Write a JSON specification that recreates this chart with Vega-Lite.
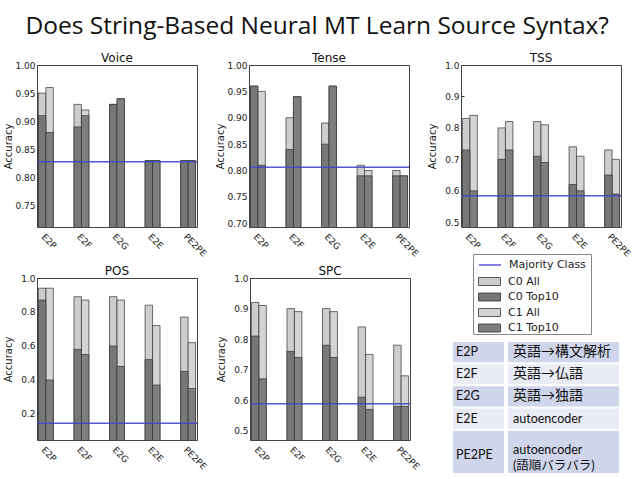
{
  "$schema": "https://vega.github.io/schema/vega-lite/v6.json",
  "padding": {"left": 2, "top": 14, "right": 0, "bottom": 0},
  "title": {"text": "Does String-Based Neural MT Learn Source Syntax?", "font": "Open Sans", "fontSize": 24.5, "fontWeight": "normal", "color": "#111", "anchor": "middle", "offset": 12},
  "datasets": {
    "bars": [
      {"task":"Voice","model":"E2P","cls":"C0","set":"All","series":"C0 All","acc":0.95},
      {"task":"Voice","model":"E2P","cls":"C0","set":"Top10","series":"C0 Top10","acc":0.91},
      {"task":"Voice","model":"E2P","cls":"C1","set":"All","series":"C1 All","acc":0.96},
      {"task":"Voice","model":"E2P","cls":"C1","set":"Top10","series":"C1 Top10","acc":0.88},
      {"task":"Voice","model":"E2F","cls":"C0","set":"All","series":"C0 All","acc":0.93},
      {"task":"Voice","model":"E2F","cls":"C0","set":"Top10","series":"C0 Top10","acc":0.89},
      {"task":"Voice","model":"E2F","cls":"C1","set":"All","series":"C1 All","acc":0.92},
      {"task":"Voice","model":"E2F","cls":"C1","set":"Top10","series":"C1 Top10","acc":0.91},
      {"task":"Voice","model":"E2G","cls":"C0","set":"All","series":"C0 All","acc":0.93},
      {"task":"Voice","model":"E2G","cls":"C0","set":"Top10","series":"C0 Top10","acc":0.93},
      {"task":"Voice","model":"E2G","cls":"C1","set":"All","series":"C1 All","acc":0.94},
      {"task":"Voice","model":"E2G","cls":"C1","set":"Top10","series":"C1 Top10","acc":0.94},
      {"task":"Voice","model":"E2E","cls":"C0","set":"All","series":"C0 All","acc":0.83},
      {"task":"Voice","model":"E2E","cls":"C0","set":"Top10","series":"C0 Top10","acc":0.83},
      {"task":"Voice","model":"E2E","cls":"C1","set":"All","series":"C1 All","acc":0.83},
      {"task":"Voice","model":"E2E","cls":"C1","set":"Top10","series":"C1 Top10","acc":0.83},
      {"task":"Voice","model":"PE2PE","cls":"C0","set":"All","series":"C0 All","acc":0.83},
      {"task":"Voice","model":"PE2PE","cls":"C0","set":"Top10","series":"C0 Top10","acc":0.83},
      {"task":"Voice","model":"PE2PE","cls":"C1","set":"All","series":"C1 All","acc":0.83},
      {"task":"Voice","model":"PE2PE","cls":"C1","set":"Top10","series":"C1 Top10","acc":0.83},
      {"task":"Tense","model":"E2P","cls":"C0","set":"All","series":"C0 All","acc":0.96},
      {"task":"Tense","model":"E2P","cls":"C0","set":"Top10","series":"C0 Top10","acc":0.96},
      {"task":"Tense","model":"E2P","cls":"C1","set":"All","series":"C1 All","acc":0.95},
      {"task":"Tense","model":"E2P","cls":"C1","set":"Top10","series":"C1 Top10","acc":0.81},
      {"task":"Tense","model":"E2F","cls":"C0","set":"All","series":"C0 All","acc":0.90},
      {"task":"Tense","model":"E2F","cls":"C0","set":"Top10","series":"C0 Top10","acc":0.84},
      {"task":"Tense","model":"E2F","cls":"C1","set":"All","series":"C1 All","acc":0.94},
      {"task":"Tense","model":"E2F","cls":"C1","set":"Top10","series":"C1 Top10","acc":0.94},
      {"task":"Tense","model":"E2G","cls":"C0","set":"All","series":"C0 All","acc":0.89},
      {"task":"Tense","model":"E2G","cls":"C0","set":"Top10","series":"C0 Top10","acc":0.85},
      {"task":"Tense","model":"E2G","cls":"C1","set":"All","series":"C1 All","acc":0.96},
      {"task":"Tense","model":"E2G","cls":"C1","set":"Top10","series":"C1 Top10","acc":0.96},
      {"task":"Tense","model":"E2E","cls":"C0","set":"All","series":"C0 All","acc":0.81},
      {"task":"Tense","model":"E2E","cls":"C0","set":"Top10","series":"C0 Top10","acc":0.79},
      {"task":"Tense","model":"E2E","cls":"C1","set":"All","series":"C1 All","acc":0.80},
      {"task":"Tense","model":"E2E","cls":"C1","set":"Top10","series":"C1 Top10","acc":0.79},
      {"task":"Tense","model":"PE2PE","cls":"C0","set":"All","series":"C0 All","acc":0.80},
      {"task":"Tense","model":"PE2PE","cls":"C0","set":"Top10","series":"C0 Top10","acc":0.79},
      {"task":"Tense","model":"PE2PE","cls":"C1","set":"All","series":"C1 All","acc":0.79},
      {"task":"Tense","model":"PE2PE","cls":"C1","set":"Top10","series":"C1 Top10","acc":0.79},
      {"task":"TSS","model":"E2P","cls":"C0","set":"All","series":"C0 All","acc":0.83},
      {"task":"TSS","model":"E2P","cls":"C0","set":"Top10","series":"C0 Top10","acc":0.73},
      {"task":"TSS","model":"E2P","cls":"C1","set":"All","series":"C1 All","acc":0.84},
      {"task":"TSS","model":"E2P","cls":"C1","set":"Top10","series":"C1 Top10","acc":0.60},
      {"task":"TSS","model":"E2F","cls":"C0","set":"All","series":"C0 All","acc":0.80},
      {"task":"TSS","model":"E2F","cls":"C0","set":"Top10","series":"C0 Top10","acc":0.70},
      {"task":"TSS","model":"E2F","cls":"C1","set":"All","series":"C1 All","acc":0.82},
      {"task":"TSS","model":"E2F","cls":"C1","set":"Top10","series":"C1 Top10","acc":0.73},
      {"task":"TSS","model":"E2G","cls":"C0","set":"All","series":"C0 All","acc":0.82},
      {"task":"TSS","model":"E2G","cls":"C0","set":"Top10","series":"C0 Top10","acc":0.71},
      {"task":"TSS","model":"E2G","cls":"C1","set":"All","series":"C1 All","acc":0.81},
      {"task":"TSS","model":"E2G","cls":"C1","set":"Top10","series":"C1 Top10","acc":0.69},
      {"task":"TSS","model":"E2E","cls":"C0","set":"All","series":"C0 All","acc":0.74},
      {"task":"TSS","model":"E2E","cls":"C0","set":"Top10","series":"C0 Top10","acc":0.62},
      {"task":"TSS","model":"E2E","cls":"C1","set":"All","series":"C1 All","acc":0.71},
      {"task":"TSS","model":"E2E","cls":"C1","set":"Top10","series":"C1 Top10","acc":0.60},
      {"task":"TSS","model":"PE2PE","cls":"C0","set":"All","series":"C0 All","acc":0.73},
      {"task":"TSS","model":"PE2PE","cls":"C0","set":"Top10","series":"C0 Top10","acc":0.65},
      {"task":"TSS","model":"PE2PE","cls":"C1","set":"All","series":"C1 All","acc":0.70},
      {"task":"TSS","model":"PE2PE","cls":"C1","set":"Top10","series":"C1 Top10","acc":0.59},
      {"task":"POS","model":"E2P","cls":"C0","set":"All","series":"C0 All","acc":0.94},
      {"task":"POS","model":"E2P","cls":"C0","set":"Top10","series":"C0 Top10","acc":0.87},
      {"task":"POS","model":"E2P","cls":"C1","set":"All","series":"C1 All","acc":0.94},
      {"task":"POS","model":"E2P","cls":"C1","set":"Top10","series":"C1 Top10","acc":0.40},
      {"task":"POS","model":"E2F","cls":"C0","set":"All","series":"C0 All","acc":0.89},
      {"task":"POS","model":"E2F","cls":"C0","set":"Top10","series":"C0 Top10","acc":0.58},
      {"task":"POS","model":"E2F","cls":"C1","set":"All","series":"C1 All","acc":0.87},
      {"task":"POS","model":"E2F","cls":"C1","set":"Top10","series":"C1 Top10","acc":0.55},
      {"task":"POS","model":"E2G","cls":"C0","set":"All","series":"C0 All","acc":0.89},
      {"task":"POS","model":"E2G","cls":"C0","set":"Top10","series":"C0 Top10","acc":0.60},
      {"task":"POS","model":"E2G","cls":"C1","set":"All","series":"C1 All","acc":0.87},
      {"task":"POS","model":"E2G","cls":"C1","set":"Top10","series":"C1 Top10","acc":0.48},
      {"task":"POS","model":"E2E","cls":"C0","set":"All","series":"C0 All","acc":0.84},
      {"task":"POS","model":"E2E","cls":"C0","set":"Top10","series":"C0 Top10","acc":0.52},
      {"task":"POS","model":"E2E","cls":"C1","set":"All","series":"C1 All","acc":0.72},
      {"task":"POS","model":"E2E","cls":"C1","set":"Top10","series":"C1 Top10","acc":0.37},
      {"task":"POS","model":"PE2PE","cls":"C0","set":"All","series":"C0 All","acc":0.77},
      {"task":"POS","model":"PE2PE","cls":"C0","set":"Top10","series":"C0 Top10","acc":0.45},
      {"task":"POS","model":"PE2PE","cls":"C1","set":"All","series":"C1 All","acc":0.62},
      {"task":"POS","model":"PE2PE","cls":"C1","set":"Top10","series":"C1 Top10","acc":0.35},
      {"task":"SPC","model":"E2P","cls":"C0","set":"All","series":"C0 All","acc":0.92},
      {"task":"SPC","model":"E2P","cls":"C0","set":"Top10","series":"C0 Top10","acc":0.81},
      {"task":"SPC","model":"E2P","cls":"C1","set":"All","series":"C1 All","acc":0.91},
      {"task":"SPC","model":"E2P","cls":"C1","set":"Top10","series":"C1 Top10","acc":0.67},
      {"task":"SPC","model":"E2F","cls":"C0","set":"All","series":"C0 All","acc":0.90},
      {"task":"SPC","model":"E2F","cls":"C0","set":"Top10","series":"C0 Top10","acc":0.76},
      {"task":"SPC","model":"E2F","cls":"C1","set":"All","series":"C1 All","acc":0.89},
      {"task":"SPC","model":"E2F","cls":"C1","set":"Top10","series":"C1 Top10","acc":0.74},
      {"task":"SPC","model":"E2G","cls":"C0","set":"All","series":"C0 All","acc":0.90},
      {"task":"SPC","model":"E2G","cls":"C0","set":"Top10","series":"C0 Top10","acc":0.78},
      {"task":"SPC","model":"E2G","cls":"C1","set":"All","series":"C1 All","acc":0.89},
      {"task":"SPC","model":"E2G","cls":"C1","set":"Top10","series":"C1 Top10","acc":0.74},
      {"task":"SPC","model":"E2E","cls":"C0","set":"All","series":"C0 All","acc":0.84},
      {"task":"SPC","model":"E2E","cls":"C0","set":"Top10","series":"C0 Top10","acc":0.61},
      {"task":"SPC","model":"E2E","cls":"C1","set":"All","series":"C1 All","acc":0.75},
      {"task":"SPC","model":"E2E","cls":"C1","set":"Top10","series":"C1 Top10","acc":0.57},
      {"task":"SPC","model":"PE2PE","cls":"C0","set":"All","series":"C0 All","acc":0.78},
      {"task":"SPC","model":"PE2PE","cls":"C0","set":"Top10","series":"C0 Top10","acc":0.58},
      {"task":"SPC","model":"PE2PE","cls":"C1","set":"All","series":"C1 All","acc":0.68},
      {"task":"SPC","model":"PE2PE","cls":"C1","set":"Top10","series":"C1 Top10","acc":0.58}
    ],
    "majority": [
      {"task":"Voice","majority":0.828},
      {"task":"Tense","majority":0.806},
      {"task":"TSS","majority":0.584},
      {"task":"POS","majority":0.145},
      {"task":"SPC","majority":0.589}
    ],
    "table": [
      {"abbr":"E2P","desc":"英語→構文解析","lines":1},
      {"abbr":"E2F","desc":"英語→仏語","lines":1},
      {"abbr":"E2G","desc":"英語→独語","lines":1},
      {"abbr":"E2E","desc":"autoencoder","lines":1},
      {"abbr":"PE2PE","desc":"autoencoder\n(語順バラバラ)","lines":2}
    ]
  },
  "vconcat": [
    {
      "hconcat": [
        {
          "width": 160, "height": 162, "title": "Voice",
          "layer": [
            {"data": {"name": "bars"}, "transform": [{"filter": "datum.task === 'Voice' && datum.set === 'All'"}],
             "mark": {"type": "bar", "stroke": "#333", "strokeWidth": 0.7, "clip": true},
             "encoding": {
               "x": {"field": "model", "type": "nominal", "sort": ["E2P","E2F","E2G","E2E","PE2PE"], "scale": {"paddingInner": 0.58, "paddingOuter": 0.04}, "axis": {"title": null, "labelAngle": 45}},
               "xOffset": {"field": "cls", "type": "nominal", "scale": {"paddingInner": 0, "paddingOuter": 0}},
               "y": {"field": "acc", "type": "quantitative", "scale": {"domain": [0.712, 1.0], "nice": false, "zero": false}, "axis": {"title": "Accuracy", "values": [0.75, 0.8, 0.85, 0.9, 0.95, 1.0], "tickCount": 12, "format": ".2f"}},
               "fill": {"field": "series", "type": "nominal",
                 "scale": {"domain": ["C0 All","C0 Top10","C1 All","C1 Top10"], "range": ["#cdcdcd","#777777","#d4d4d4","#7e7e7e"]},
                 "legend": {"title": null, "orient": "none", "legendX": 441, "legendY": 211, "direction": "vertical", "padding": 0}}
             }},
            {"data": {"name": "bars"}, "transform": [{"filter": "datum.task === 'Voice' && datum.set === 'Top10'"}],
             "mark": {"type": "bar", "stroke": "#333", "strokeWidth": 0.7, "clip": true},
             "encoding": {
               "x": {"field": "model", "type": "nominal", "sort": ["E2P","E2F","E2G","E2E","PE2PE"]},
               "xOffset": {"field": "cls", "type": "nominal"},
               "y": {"field": "acc", "type": "quantitative"},
               "fill": {"field": "series", "type": "nominal"}
             }},
            {"data": {"name": "majority"}, "transform": [{"filter": "datum.task === 'Voice'"}],
             "mark": {"type": "rule", "strokeWidth": 1.5, "opacity": 0.9},
             "encoding": {"y": {"field": "majority", "type": "quantitative"},
               "stroke": {"datum": "Majority Class", "scale": {"domain": ["Majority Class"], "range": ["#4646c8"]},
                 "legend": {"title": [" ", " ", " ", " "], "titleOrient": "bottom", "titleFontSize": 11, "titleLineHeight": 16, "titlePadding": 0, "orient": "none", "legendX": 436, "legendY": 189, "symbolType": "M-2.2,0H2.2", "symbolStrokeWidth": 1.5, "padding": 5, "strokeColor": "#888", "fillColor": null}}}}
          ]
        },
        {
          "width": 160, "height": 162, "title": "Tense",
          "layer": [
            {"data": {"name": "bars"}, "transform": [{"filter": "datum.task === 'Tense' && datum.set === 'All'"}],
             "mark": {"type": "bar", "stroke": "#333", "strokeWidth": 0.7, "clip": true},
             "encoding": {
               "x": {"field": "model", "type": "nominal", "sort": ["E2P","E2F","E2G","E2E","PE2PE"], "scale": {"paddingInner": 0.58, "paddingOuter": 0.04}, "axis": {"title": null, "labelAngle": 45}},
               "xOffset": {"field": "cls", "type": "nominal", "scale": {"paddingInner": 0, "paddingOuter": 0}},
               "y": {"field": "acc", "type": "quantitative", "scale": {"domain": [0.693, 1.0], "nice": false, "zero": false}, "axis": {"title": "Accuracy", "values": [0.7, 0.75, 0.8, 0.85, 0.9, 0.95, 1.0], "tickCount": 12, "format": ".2f"}},
               "fill": {"field": "series", "type": "nominal"}
             }},
            {"data": {"name": "bars"}, "transform": [{"filter": "datum.task === 'Tense' && datum.set === 'Top10'"}],
             "mark": {"type": "bar", "stroke": "#333", "strokeWidth": 0.7, "clip": true},
             "encoding": {
               "x": {"field": "model", "type": "nominal", "sort": ["E2P","E2F","E2G","E2E","PE2PE"]},
               "xOffset": {"field": "cls", "type": "nominal"},
               "y": {"field": "acc", "type": "quantitative"},
               "fill": {"field": "series", "type": "nominal"}
             }},
            {"data": {"name": "majority"}, "transform": [{"filter": "datum.task === 'Tense'"}],
             "mark": {"type": "rule", "strokeWidth": 1.5, "opacity": 0.9},
             "encoding": {"y": {"field": "majority", "type": "quantitative"}, "stroke": {"datum": "Majority Class"}}}
          ]
        },
        {
          "width": 160, "height": 162, "title": "TSS",
          "layer": [
            {"data": {"name": "bars"}, "transform": [{"filter": "datum.task === 'TSS' && datum.set === 'All'"}],
             "mark": {"type": "bar", "stroke": "#333", "strokeWidth": 0.7, "clip": true},
             "encoding": {
               "x": {"field": "model", "type": "nominal", "sort": ["E2P","E2F","E2G","E2E","PE2PE"], "scale": {"paddingInner": 0.58, "paddingOuter": 0.04}, "axis": {"title": null, "labelAngle": 45}},
               "xOffset": {"field": "cls", "type": "nominal", "scale": {"paddingInner": 0, "paddingOuter": 0}},
               "y": {"field": "acc", "type": "quantitative", "scale": {"domain": [0.485, 1.0], "nice": false, "zero": false}, "axis": {"title": "Accuracy", "values": [0.5, 0.6, 0.7, 0.8, 0.9, 1.0], "tickCount": 12, "format": ".1f"}},
               "fill": {"field": "series", "type": "nominal"}
             }},
            {"data": {"name": "bars"}, "transform": [{"filter": "datum.task === 'TSS' && datum.set === 'Top10'"}],
             "mark": {"type": "bar", "stroke": "#333", "strokeWidth": 0.7, "clip": true},
             "encoding": {
               "x": {"field": "model", "type": "nominal", "sort": ["E2P","E2F","E2G","E2E","PE2PE"]},
               "xOffset": {"field": "cls", "type": "nominal"},
               "y": {"field": "acc", "type": "quantitative"},
               "fill": {"field": "series", "type": "nominal"}
             }},
            {"data": {"name": "majority"}, "transform": [{"filter": "datum.task === 'TSS'"}],
             "mark": {"type": "rule", "strokeWidth": 1.5, "opacity": 0.9},
             "encoding": {"y": {"field": "majority", "type": "quantitative"}, "stroke": {"datum": "Majority Class"}}}
          ]
        }
      ],
      "spacing": 6
    },
    {
      "hconcat": [
        {
          "width": 160, "height": 162, "title": "POS",
          "layer": [
            {"data": {"name": "bars"}, "transform": [{"filter": "datum.task === 'POS' && datum.set === 'All'"}],
             "mark": {"type": "bar", "stroke": "#333", "strokeWidth": 0.7, "clip": true},
             "encoding": {
               "x": {"field": "model", "type": "nominal", "sort": ["E2P","E2F","E2G","E2E","PE2PE"], "scale": {"paddingInner": 0.58, "paddingOuter": 0.04}, "axis": {"title": null, "labelAngle": 45}},
               "xOffset": {"field": "cls", "type": "nominal", "scale": {"paddingInner": 0, "paddingOuter": 0}},
               "y": {"field": "acc", "type": "quantitative", "scale": {"domain": [0.047, 1.0], "nice": false, "zero": false}, "axis": {"title": "Accuracy", "values": [0.2, 0.4, 0.6, 0.8, 1.0], "tickCount": 12, "format": ".1f"}},
               "fill": {"field": "series", "type": "nominal"}
             }},
            {"data": {"name": "bars"}, "transform": [{"filter": "datum.task === 'POS' && datum.set === 'Top10'"}],
             "mark": {"type": "bar", "stroke": "#333", "strokeWidth": 0.7, "clip": true},
             "encoding": {
               "x": {"field": "model", "type": "nominal", "sort": ["E2P","E2F","E2G","E2E","PE2PE"]},
               "xOffset": {"field": "cls", "type": "nominal"},
               "y": {"field": "acc", "type": "quantitative"},
               "fill": {"field": "series", "type": "nominal"}
             }},
            {"data": {"name": "majority"}, "transform": [{"filter": "datum.task === 'POS'"}],
             "mark": {"type": "rule", "strokeWidth": 1.5, "opacity": 0.9},
             "encoding": {"y": {"field": "majority", "type": "quantitative"}, "stroke": {"datum": "Majority Class"}}}
          ]
        },
        {
          "hconcat": [
            {
              "width": 160, "height": 162, "title": "SPC",
              "layer": [
                {"data": {"name": "bars"}, "transform": [{"filter": "datum.task === 'SPC' && datum.set === 'All'"}],
                 "mark": {"type": "bar", "stroke": "#333", "strokeWidth": 0.7, "clip": true},
                 "encoding": {
                   "x": {"field": "model", "type": "nominal", "sort": ["E2P","E2F","E2G","E2E","PE2PE"], "scale": {"paddingInner": 0.58, "paddingOuter": 0.04}, "axis": {"title": null, "labelAngle": 45}},
                   "xOffset": {"field": "cls", "type": "nominal", "scale": {"paddingInner": 0, "paddingOuter": 0}},
                   "y": {"field": "acc", "type": "quantitative", "scale": {"domain": [0.47, 1.0], "nice": false, "zero": false}, "axis": {"title": "Accuracy", "values": [0.5, 0.6, 0.7, 0.8, 0.9, 1.0], "tickCount": 12, "format": ".1f"}},
                   "fill": {"field": "series", "type": "nominal"}
                 }},
                {"data": {"name": "bars"}, "transform": [{"filter": "datum.task === 'SPC' && datum.set === 'Top10'"}],
                 "mark": {"type": "bar", "stroke": "#333", "strokeWidth": 0.7, "clip": true},
                 "encoding": {
                   "x": {"field": "model", "type": "nominal", "sort": ["E2P","E2F","E2G","E2E","PE2PE"]},
                   "xOffset": {"field": "cls", "type": "nominal"},
                   "y": {"field": "acc", "type": "quantitative"},
                   "fill": {"field": "series", "type": "nominal"}
                 }},
                {"data": {"name": "majority"}, "transform": [{"filter": "datum.task === 'SPC'"}],
                 "mark": {"type": "rule", "strokeWidth": 1.5, "opacity": 0.9},
                 "encoding": {"y": {"field": "majority", "type": "quantitative"}, "stroke": {"datum": "Majority Class"}}}
              ]
            },
            {
              "hconcat": [
                {
                  "width": 53, "height": 196, "view": {"stroke": null},
                  "data": {"name": "table"},
                  "transform": [
                    {"window": [{"op": "sum", "field": "lines", "as": "end"}], "frame": [null, 0], "ignorePeers": true},
                    {"window": [{"op": "lag", "field": "end", "as": "start"}]}
                  ],
                  "layer": [
                    {"mark": {"type": "rect", "stroke": "white", "strokeWidth": 2},
                     "encoding": {
                       "y": {"field": "end", "type": "quantitative", "scale": {"domain": [-2.84, 6], "reverse": true, "nice": false, "zero": false}, "axis": null},
                       "y2": {"datum": 0},
                       "order": {"field": "end", "sort": "descending"},
                       "color": {"field": "abbr", "type": "nominal", "scale": {"domain": ["E2P","E2F","E2G","E2E","PE2PE"], "range": ["#cfd5ea","#e9ebf5","#cfd5ea","#e9ebf5","#cfd5ea"]}, "legend": null}
                     }},
                    {"transform": [{"filter": "datum.lines === 1"}],
                     "mark": {"type": "text", "align": "left", "baseline": "bottom", "dx": -22.5, "dy": -4, "font": "Lato", "fontSize": 12.5, "color": "#111"},
                     "encoding": {"y": {"field": "end", "type": "quantitative"}, "text": {"field": "abbr"}}},
                    {"transform": [{"filter": "datum.lines > 1"}],
                     "mark": {"type": "text", "align": "left", "baseline": "middle", "dx": -22.5, "dy": 25, "font": "Lato", "fontSize": 12.5, "color": "#111"},
                     "encoding": {"y": {"field": "start", "type": "quantitative"}, "text": {"field": "abbr"}}}
                  ]
                },
                {
                  "width": 113, "height": 196, "view": {"stroke": null},
                  "data": {"name": "table"},
                  "transform": [
                    {"window": [{"op": "sum", "field": "lines", "as": "end"}], "frame": [null, 0], "ignorePeers": true},
                    {"window": [{"op": "lag", "field": "end", "as": "start"}]}
                  ],
                  "layer": [
                    {"mark": {"type": "rect", "stroke": "white", "strokeWidth": 2},
                     "encoding": {
                       "y": {"field": "end", "type": "quantitative", "scale": {"domain": [-2.84, 6], "reverse": true, "nice": false, "zero": false}, "axis": null},
                       "y2": {"datum": 0},
                       "order": {"field": "end", "sort": "descending"},
                       "color": {"field": "abbr", "type": "nominal", "legend": null}
                     }},
                    {"transform": [{"filter": "datum.lines === 1"}],
                     "mark": {"type": "text", "align": "left", "baseline": "bottom", "dx": -50.5, "dy": -4, "font": "Lato, 'Noto Sans CJK JP', sans-serif", "color": "#111"},
                     "encoding": {"y": {"field": "end", "type": "quantitative"}, "text": {"field": "desc"},
                       "size": {"condition": {"test": "test(/^[a-z]/, datum.desc)", "value": 12.5}, "value": 14}}},
                    {"transform": [{"filter": "datum.lines > 1"}],
                     "mark": {"type": "text", "align": "left", "baseline": "top", "dx": -50.5, "dy": 14, "font": "Lato, 'Noto Sans CJK JP', sans-serif", "fontSize": 12.5, "color": "#111", "lineBreak": "\n", "lineHeight": 16},
                     "encoding": {"y": {"field": "start", "type": "quantitative"}, "text": {"field": "desc"}}}
                  ]
                }
              ],
              "spacing": 0
            }
          ],
          "spacing": 30
        }
      ],
      "spacing": 7
    }
  ],
  "spacing": 5,
  "config": {
    "font": "DejaVu Sans",
    "view": {"stroke": "#444", "strokeWidth": 1},
    "title": {"font": "DejaVu Sans", "fontSize": 12, "fontWeight": "normal", "color": "#111", "offset": -4},
    "axis": {"labelFont": "DejaVu Sans", "labelFontSize": 9, "labelColor": "#222", "titleFont": "DejaVu Sans", "titleFontSize": 10, "titleFontWeight": "normal", "titleColor": "#222", "grid": false, "domain": false, "tickColor": "#333", "labelOverlap": false},
    "axisY": {"tickSize": -3, "labelPadding": 5, "minExtent": 22, "maxExtent": 22, "titlePadding": 2},
    "axisX": {"ticks": false, "labelPadding": 5},
    "legend": {"labelFont": "DejaVu Sans", "labelFontSize": 11, "labelColor": "#222", "symbolSize": 100, "symbolType": "M-2.2,-0.8H2.2V0.8H-2.2Z", "symbolStrokeColor": "#333", "symbolStrokeWidth": 0.8, "symbolOffset": 6, "labelOffset": 13, "rowPadding": 2.5}
  }
}
